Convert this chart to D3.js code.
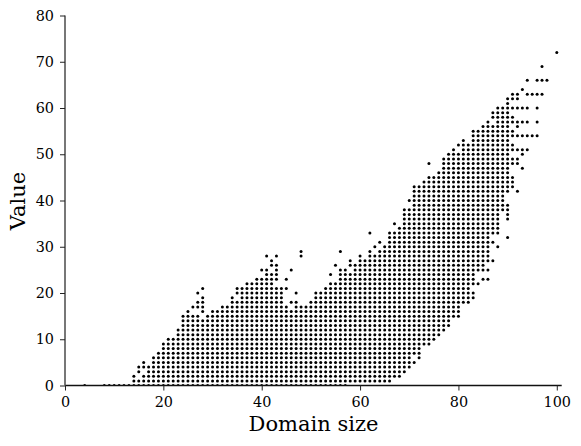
<!DOCTYPE html>
<html>
<head>
<meta charset="utf-8">
<script src="https://cdn.jsdelivr.net/npm/d3@7"></script>
<style>
  html, body { margin: 0; padding: 0; background: #fff; }
  svg { display: block; }
  text { font-family: "DejaVu Serif", serif; fill: #000; }
</style>
</head>
<body>
<script>
// domain sizes that have at least one point
var domainSizes = [4, 8, 9, 10, 11, 12, 13, 14, 15, 16, 17, 18, 19, 20, 21, 22, 23, 24, 25, 26, 27, 28, 29, 30,
  31, 32, 33, 34, 35, 36, 37, 38, 39, 40, 41, 42, 43, 44, 45, 46, 47, 48, 49, 50, 51, 52, 53, 54, 55, 56, 57, 58,
  59, 60, 61, 62, 63, 64, 65, 66, 67, 68, 69, 70, 71, 72, 73, 74, 75, 76, 77, 78, 79, 80, 81, 82, 83, 84, 85, 86,
  87, 88, 89, 90, 91, 92, 93, 94, 95, 96, 97, 98, 100];

// values seen at each domain size, same order as domainSizes, "lo-hi" means every integer in between
var valueRuns = ["0", "0", "0", "0", "0", "0", "0", "0-2", "0-1 3-4", "0-2 4-5", "0-4", "0-6", "0-7", "0-9", "0-10",
  "0-10", "0-12", "0-15", "0-16", "0-15 17", "0-15 17-18 20", "0-14 16-19 21", "0-15", "0-16",
  "0-16", "0-17", "0-17", "0-19", "0-18 20-21", "0-21", "0-22", "0-22", "0-23", "0-23 25", "0-25 28", "0-24 26-27",
  "0-21 23-26 28", "0-21", "0-17 21 23", "0-16 18 25", "0-18 20", "0-17 28-29", "0-17", "0-18", "0-20", "0-20",
  "0-21", "0-22 24", "0-22 26", "0-25 29", "0-25", "1-24 26-27",
  "1-26", "1-28", "1-27", "1-29 33", "1-28 30", "1-29 31", "1-30", "1-33", "2-33 35", "2-34", "3-38", "4-38 40",
  "5 7-43", "6-43", "9-44", "9-45 48", "10-45", "11-46", "12-49", "13-50", "15-51", "15-50 52", "18-53", "18-52",
  "19-20 22-55", "22 25-55", "23 25-56", "23 25 27-57",
  "27 31 33-56 58-59", "30 33-60", "38-60", "32 36-39 42-62", "43-45 48-49 51-52 54-55 57-58 60 62-63",
  "42 48-49 51 54 56-57 60 62-63", "47 50-51 54 57 60 64", "51 54 57 60 63 66", "54 63", "54 57 60 63 66",
  "63 66 69", "66", "72"];

var xTicks = [0, 20, 40, 60, 80, 100];
var yTicks = [0, 10, 20, 30, 40, 50, 60, 70, 80];

// svg container
var svgWidth = 581;
var svgHeight = 446;

var margin = { top: 15.5, right: 19.3, bottom: 60.5, left: 65 };
var chartWidth = svgWidth - margin.left - margin.right;
var chartHeight = svgHeight - margin.top - margin.bottom;

var svg = d3.select("body").append("svg")
    .attr("width", svgWidth)
    .attr("height", svgHeight);

var chartGroup = svg.append("g")
    .attr("transform", `translate(${margin.left}, ${margin.top})`);

// scales
var xScale = d3.scaleLinear().domain([0, 101]).range([0, chartWidth]);
var yScale = d3.scaleLinear().domain([0, 80]).range([chartHeight, 0]);

// expand the runs into points
var points = [];
domainSizes.forEach((x, i) => {
    valueRuns[i].split(" ").forEach(run => {
        var ends = run.split("-").map(Number);
        var hi = ends.length > 1 ? ends[1] : ends[0];
        d3.range(ends[0], hi + 1).forEach(v => points.push({ x: x, y: v }));
    });
});

// dots are cut at the axes
svg.append("clipPath").attr("id", "plotClip")
  .append("rect")
    .attr("width", chartWidth)
    .attr("height", chartHeight);

chartGroup.append("g")
    .attr("clip-path", "url(#plotClip)")
  .selectAll("circle")
    .data(points)
    .enter()
    .append("circle")
    .attr("cx", d => xScale(d.x))
    .attr("cy", d => yScale(d.y))
    .attr("r", 1.5)
    .attr("fill", "#000");

// axes
var bottomAxis = d3.axisBottom(xScale).tickValues(xTicks).tickSize(5).tickPadding(6);
var leftAxis = d3.axisLeft(yScale).tickValues(yTicks).tickSize(5).tickPadding(6);

var xAxisGroup = chartGroup.append("g")
    .attr("transform", `translate(0, ${chartHeight})`)
    .call(bottomAxis);
var yAxisGroup = chartGroup.append("g").call(leftAxis);

xAxisGroup.selectAll("text").style("font-size", "14.4px").style("font-family", "DejaVu Serif");
yAxisGroup.selectAll("text").style("font-size", "14.4px").style("font-family", "DejaVu Serif");

// no end caps on the axis lines
xAxisGroup.select(".domain").attr("d", `M0,0H${chartWidth}`).attr("stroke", "#111").attr("stroke-width", 1.4);
yAxisGroup.select(".domain").attr("d", `M0,0V${chartHeight}`).attr("stroke", "#555").attr("stroke-width", 1.6);
xAxisGroup.selectAll(".tick line").attr("stroke", "#222").attr("stroke-width", 1);
yAxisGroup.selectAll(".tick line").attr("stroke", "#222").attr("stroke-width", 1);

// axis labels
svg.append("text")
    .attr("x", 313.5)
    .attr("y", 431)
    .attr("text-anchor", "middle")
    .style("font-size", "21px")
    .text("Domain size");

svg.append("text")
    .attr("transform", "translate(25, 201) rotate(-90)")
    .attr("text-anchor", "middle")
    .style("font-size", "21px")
    .text("Value");
</script>
</body>
</html>
